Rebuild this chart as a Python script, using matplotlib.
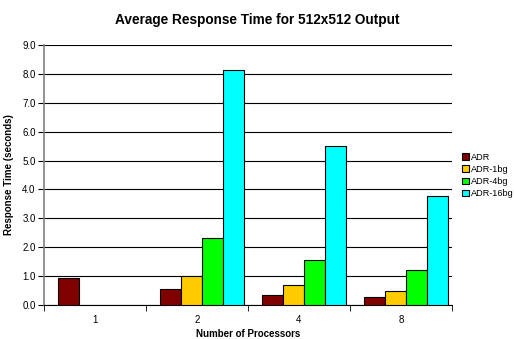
import matplotlib
matplotlib.use("Agg")
import matplotlib.pyplot as plt
import numpy as np

# Chart data
procs = ["1", "2", "4", "8"]
adr = [0.93, 0.55, 0.35, 0.27]
adr_1bg = [0, 1.02, 0.68, 0.50]
adr_4bg = [0, 2.32, 1.57, 1.22]
adr_16bg = [0, 8.12, 5.50, 3.78]

series = [("ADR", adr, "#800000"),
          ("ADR-1bg", adr_1bg, "#FFCC00"),
          ("ADR-4bg", adr_4bg, "#00FF00"),
          ("ADR-16bg", adr_16bg, "#00FFFF")]

plt.rcParams['font.family'] = ['Liberation Sans', 'DejaVu Sans']

fig = plt.figure(figsize=(5.14, 3.39), dpi=100)
ax = fig.add_axes([44/514, 1-305/339, 408/514, 260/339])

x = np.arange(len(procs))
w = 0.205
for i, (name, vals, col) in enumerate(series):
    pos = x + 0.05 + (i - 1.5) * w
    # skip empty bars so no outline shows on the baseline
    vals = np.array(vals, dtype=float)
    keep = vals > 0
    ax.bar(pos[keep], vals[keep], width=w, color=col, edgecolor="black",
           linewidth=0.8, label=name, zorder=3)

ax.set_xlim(-0.5, 3.5)
ax.set_ylim(0, 9)
ticks = np.arange(0, 9.1, 1.0)
ax.set_yticks(ticks)
ax.set_yticklabels([f"{v:.1f}" for v in ticks], fontsize=7)
ax.yaxis.grid(True, color="black", linewidth=0.8, zorder=0)

ax.set_xticks(x)
ax.set_xticklabels(procs, fontsize=7)
ax.tick_params(axis="x", length=0, pad=7)
ax.set_xticks(np.arange(-0.5, 3.6, 1.0), minor=True)
ax.tick_params(axis="x", which="minor", length=4, direction="out")
ax.tick_params(axis="y", length=4, direction="out", pad=2)

ax.spines["top"].set_visible(False)
ax.spines["right"].set_visible(False)
ax.spines["left"].set_color("#808080")
ax.spines["left"].set_linewidth(1.2)

ax.set_xlabel("Number of Processors", fontsize=7, fontweight="bold", labelpad=3)
ax.set_ylabel("Response Time (seconds)", fontsize=7, fontweight="bold", labelpad=6)
fig.suptitle("Average Response Time for 512x512 Output", fontsize=9.8,
             fontweight="bold", y=0.962, x=0.5)

fig.legend(loc="upper left", bbox_to_anchor=(458/514, 1-149/339), frameon=False,
           fontsize=6.6, handlelength=0.75, handleheight=0.75, handletextpad=0.25,
           labelspacing=0.35, borderaxespad=0)

fig.savefig("out.png", dpi=100)
